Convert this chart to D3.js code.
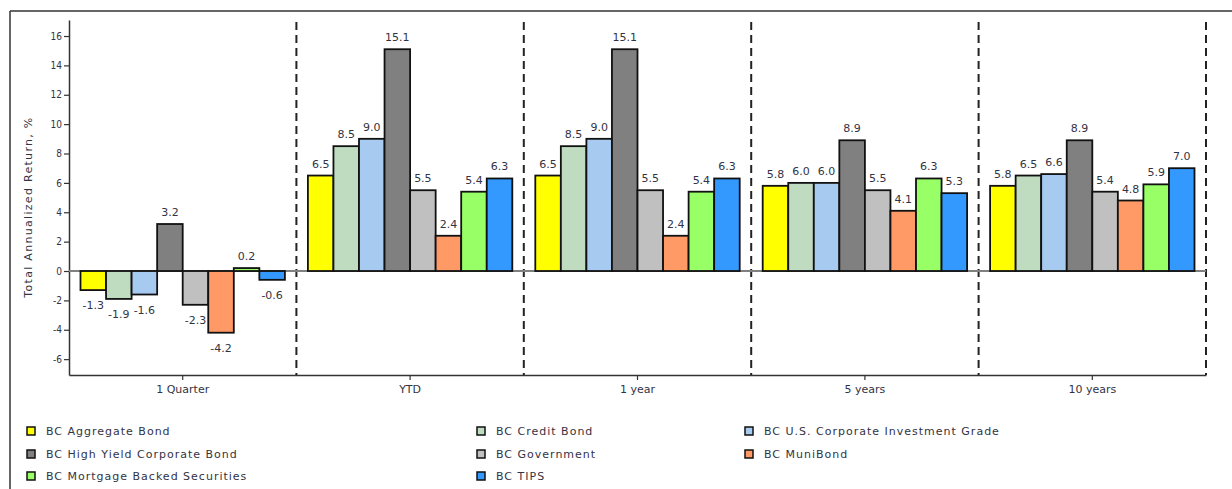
<!DOCTYPE html>
<html>
<head>
<meta charset="utf-8">
<script src="https://cdn.jsdelivr.net/npm/d3@7"></script>
<style>
  html, body { margin: 0; padding: 0; background: #fff; }
  svg { display: block; }
  text { font-family: "DejaVu Sans", "Lato", sans-serif; fill: #333344; }
</style>
</head>
<body>
<svg id="chart" width="1232" height="489"></svg>
<script>
// Periods along the x axis
const periods = ["1 Quarter", "YTD", "1 year", "5 years", "10 years"];

// Index names (legend order)
const seriesNames = [
  "BC Aggregate Bond",
  "BC Credit Bond",
  "BC U.S. Corporate Investment Grade",
  "BC High Yield Corporate Bond",
  "BC Government",
  "BC MuniBond",
  "BC Mortgage Backed Securities",
  "BC TIPS"
];

const seriesColors = ["#ffff00", "#c0dcc0", "#a6caf0", "#808080", "#c0c0c0", "#ff9966", "#99ff66", "#3399ff"];

// Total annualized return (%) per index, in period order
const aggregateBond   = [-1.3, 6.5, 6.5, 5.8, 5.8];
const creditBond      = [-1.9, 8.5, 8.5, 6.0, 6.5];
const corporateIG     = [-1.6, 9.0, 9.0, 6.0, 6.6];
const highYield       = [3.2, 15.1, 15.1, 8.9, 8.9];
const government      = [-2.3, 5.5, 5.5, 5.5, 5.4];
const muniBond        = [-4.2, 2.4, 2.4, 4.1, 4.8];
const mortgageBacked  = [0.2, 5.4, 5.4, 6.3, 5.9];
const tips            = [-0.6, 6.3, 6.3, 5.3, 7.0];

const yTicks = [-6, -4, -2, 0, 2, 4, 6, 8, 10, 12, 14, 16];

const seriesValues = [aggregateBond, creditBond, corporateIG, highYield, government, muniBond, mortgageBacked, tips];

// Plain hyphen for negative numbers
const locale = d3.formatLocale({ decimal: ".", thousands: ",", grouping: [3], currency: ["", ""], minus: "-" });
const fmtValue = locale.format(".1f");
const fmtTick = locale.format("d");

const svg = d3.select("#chart");

// Outer frame (top and left edges)
svg.append("line").attr("x1", 10).attr("x2", 1232).attr("y1", 11).attr("y2", 11)
  .attr("stroke", "#333").attr("stroke-width", 1.5);
svg.append("line").attr("x1", 10).attr("x2", 10).attr("y1", 11).attr("y2", 489)
  .attr("stroke", "#333").attr("stroke-width", 1.5);

const plot = { left: 69, right: 1206, top: 20, bottom: 375 };

const x0 = d3.scaleBand().domain(periods).range([plot.left, plot.right]).paddingInner(0).paddingOuter(0);
const x1 = d3.scaleBand().domain(seriesNames).range([0, x0.bandwidth()]).paddingInner(0).paddingOuter(0.45);
const y = d3.scaleLinear().domain([-7.08, 17.09]).range([plot.bottom, plot.top]);

// Y axis
const yAxis = svg.append("g").attr("transform", `translate(${plot.left},0)`)
  .call(d3.axisLeft(y).tickValues(yTicks).tickSize(5).tickSizeOuter(0).tickFormat(fmtTick));
yAxis.select(".domain").attr("stroke", "#333").attr("stroke-width", 1.5);
yAxis.selectAll(".tick line").attr("stroke", "#333").attr("stroke-width", 1.2);
yAxis.selectAll(".tick text").attr("font-size", 10).attr("x", -7)
  .style("font-family", "DejaVu Sans Condensed, DejaVu Sans, sans-serif").style("fill", "#333344");

// X axis at the bottom of the plot
const xAxis = svg.append("g").attr("transform", `translate(0,${plot.bottom})`)
  .call(d3.axisBottom(x0).tickSize(5).tickSizeOuter(0));
xAxis.select(".domain").attr("stroke", "#333").attr("stroke-width", 1.5);
xAxis.selectAll(".tick line").attr("stroke", "#333").attr("stroke-width", 1.2);
xAxis.selectAll(".tick text").attr("font-size", 11).attr("y", 10)
  .style("font-family", "DejaVu Sans, sans-serif").style("fill", "#333344");

// Dashed period separators
const boundaries = periods.slice(1).map(p => x0(p)).concat([x0(periods[periods.length - 1]) + x0.bandwidth()]);
svg.append("g").selectAll("line").data(boundaries).join("line")
  .attr("x1", d => d).attr("x2", d => d)
  .attr("y1", plot.top + 2).attr("y2", plot.bottom)
  .attr("stroke", "#222").attr("stroke-width", 2).attr("stroke-dasharray", "8,5");

// Bars
const rows = [];
periods.forEach((p, pi) => {
  seriesNames.forEach((s, si) => {
    rows.push({ period: p, series: s, color: seriesColors[si], value: seriesValues[si][pi] });
  });
});

// Zero line
svg.append("line").attr("x1", plot.left).attr("x2", plot.right)
  .attr("y1", y(0)).attr("y2", y(0)).attr("stroke", "#808080").attr("stroke-width", 2);

svg.append("g").selectAll("rect").data(rows).join("rect")
  .attr("x", d => x0(d.period) + x1(d.series))
  .attr("width", x1.bandwidth())
  .attr("y", d => y(Math.max(0, d.value)))
  .attr("height", d => Math.abs(y(d.value) - y(0)))
  .attr("fill", d => d.color)
  .attr("stroke", "#111").attr("stroke-width", 1.8);

// Value labels
svg.append("g").selectAll("text").data(rows).join("text")
  .attr("x", d => x0(d.period) + x1(d.series) + x1.bandwidth() / 2)
  .attr("y", d => d.value >= 0 ? y(d.value) - 8 : y(d.value) + 19)
  .attr("text-anchor", "middle")
  .attr("font-size", 11)
  .text(d => fmtValue(d.value));

// Y axis title
svg.append("text")
  .attr("transform", "translate(32,207) rotate(-90)")
  .attr("text-anchor", "middle")
  .attr("font-size", 11)
  .style("letter-spacing", "1.3px")
  .text("Total Annualized Return, %");

// Legend: three columns, row-major
const legendCols = [27, 477, 745];
const legendRows = [431, 454, 476];
const legend = svg.append("g").selectAll("g").data(seriesNames).join("g")
  .attr("transform", (d, i) => `translate(${legendCols[i % 3]},${legendRows[Math.floor(i / 3)]})`);
legend.append("rect").attr("x", 0).attr("y", -4).attr("width", 8).attr("height", 8)
  .attr("fill", (d, i) => seriesColors[i]).attr("stroke", "#111").attr("stroke-width", 1.5);
legend.append("text").attr("x", 19).attr("y", 4).attr("font-size", 11)
  .style("letter-spacing", "1px")
  .text(d => d);
</script>
</body>
</html>
